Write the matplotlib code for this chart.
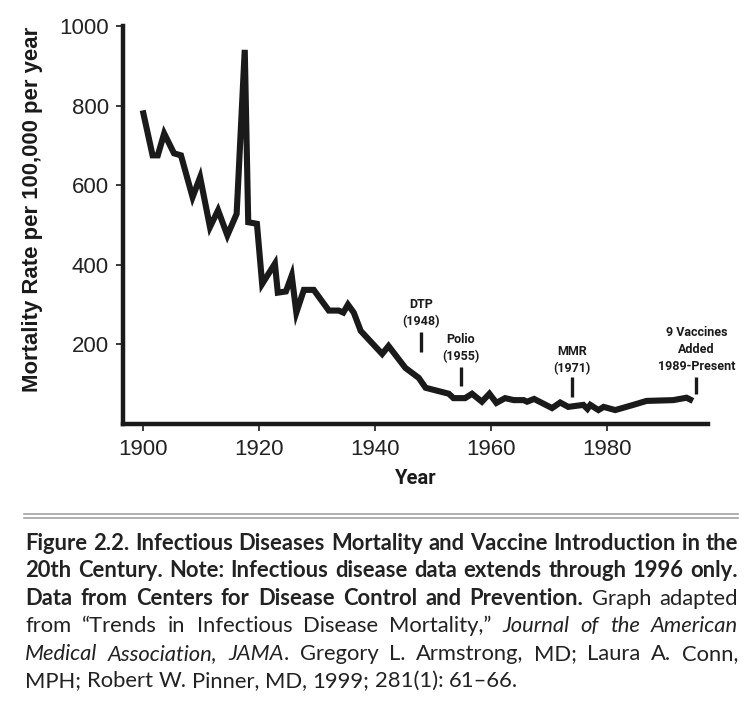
import matplotlib
matplotlib.use("Agg")
import matplotlib.pyplot as plt
from matplotlib.lines import Line2D

# data
years = [1900, 1901.7, 1902.6, 1903.7, 1905.4, 1906.6, 1908.6, 1909.9, 1911.6, 1913.0,
         1914.6, 1916.2, 1917.6, 1918.2, 1919.7, 1920.6, 1922.8, 1923.3, 1924.7, 1925.7,
         1926.5, 1927.8, 1929.5, 1932.1, 1933.8, 1934.6, 1935.4, 1936.4, 1937.6, 1941.3,
         1942.4, 1945.3, 1947.6, 1948.8, 1952.8, 1953.6, 1955.6, 1956.8, 1958.5, 1959.8,
         1961.0, 1962.5, 1964.0, 1965.7, 1966.3, 1967.5, 1970.6, 1972.0, 1973.4, 1976.0,
         1976.7, 1977.2, 1978.6, 1979.5, 1981.5, 1984.6, 1986.9, 1991.5, 1993.8, 1994.9]
rates = [788, 675, 675, 730, 680, 675, 570, 620, 495, 537,
         474, 528, 940, 507, 503, 352, 403, 330, 333, 373,
         280, 337, 337, 285, 285, 280, 300, 280, 234, 176,
         196, 141, 116, 91, 76, 65, 65, 76, 56, 76,
         53, 65, 60, 60, 56, 63, 40, 54, 43, 48,
         38, 48, 35, 43, 35, 48, 58, 60, 66, 58]

vaccine_labels = ["DTP\n(1948)", "Polio\n(1955)", "MMR\n(1971)", "9 Vaccines\nAdded\n1989-Present"]
vaccine_x = [1948.0, 1954.9, 1974.0, 1995.5]
mark_low = [182, 96, 68, 75]
mark_high = [230, 143, 117, 119]
label_bottom = [240, 152, 122, 128]

x_ticks = [1900, 1920, 1940, 1960, 1980]
y_ticks = [200, 400, 600, 800, 1000]

caption_lines = [
    [("Figure 2.2. Infectious Diseases Mortality and Vaccine Introduction in the", "bold")],
    [("20th Century. Note: Infectious disease data extends through 1996 only.", "bold")],
    [("Data from Centers for Disease Control and Prevention.", "bold"), (" Graph adapted", "normal")],
    [("from \u201cTrends in Infectious Disease Mortality,\u201d", "normal"), (" Journal of the American", "italic")],
    [("Medical Association, JAMA", "italic"), (". Gregory L. Armstrong, MD; Laura A. Conn,", "normal")],
    [("MPH; Robert W. Pinner, MD, 1999; 281(1): 61\u201366.", "normal")],
]

INK = "#1a1a1a"
BOLDFONT = ["Roboto", "DejaVu Sans"]
W, H = 750, 704
fig = plt.figure(figsize=(W / 100, H / 100), dpi=100)
ax = fig.add_axes([123 / W, 1 - 424 / H, (708 - 123) / W, (424 - 26) / H])

ax.plot(years, rates, color=INK, lw=4.4, solid_joinstyle="miter", solid_capstyle="butt")

for lab, x, lo, hi, tb in zip(vaccine_labels, vaccine_x, mark_low, mark_high, label_bottom):
    ax.plot([x, x], [lo, hi], color=INK, lw=2.4, solid_capstyle="butt")
    ax.text(x, tb, lab, ha="center", va="bottom", fontsize=9, fontweight="bold",
            family=BOLDFONT, color=INK, linespacing=1.4)

ax.set_xlim(1896.6, 1997.5)
ax.set_ylim(0, 1000)
ax.set_xticks(x_ticks)
ax.set_yticks(y_ticks)
for s in ["top", "right"]:
    ax.spines[s].set_visible(False)
for s in ["left", "bottom"]:
    ax.spines[s].set_linewidth(3.2)
    ax.spines[s].set_color(INK)
ax.tick_params(axis="both", length=5, width=1.2, color=INK, labelsize=16, labelcolor="#222222")
ax.tick_params(axis="y", pad=5)
ax.tick_params(axis="x", pad=6)
for t in ax.get_xticklabels() + ax.get_yticklabels():
    t.set_family(["Liberation Sans", "DejaVu Sans"])

fig.text(33 / W, 1 - 209 / H, "Mortality Rate per 100,000 per year", rotation=90,
         ha="center", va="center", fontsize=15.9, fontweight="bold", color=INK,
         family=["Liberation Sans", "DejaVu Sans"])
fig.text(416 / W, 1 - 479 / H, "Year", ha="center", va="center", fontsize=14.5,
         fontweight="bold", color=INK, family=BOLDFONT)

# double rule above the caption
for yy in [513.7, 517.7]:
    fig.add_artist(Line2D([24 / W, 738 / W], [1 - yy / H] * 2, color="#9a9a9a", lw=1.1))

# justified caption, word by word
cap_left, cap_right = 25, 738
baselines = [550, 577.4, 604.8, 632.2, 659.6, 687]
CAPFONT = ["Lato", "DejaVu Sans"]
styles = {"bold": dict(fontweight="bold"), "normal": dict(), "italic": dict(fontstyle="italic")}
renderer = fig.canvas.get_renderer()


def text_width(s, size, st):
    t = fig.text(0, 0, s, fontsize=size, family=CAPFONT, **styles[st])
    wd = t.get_window_extent(renderer).width
    t.remove()
    return wd


# size the caption font so the first line fills the width with ordinary spaces
base = 13
natural = text_width(caption_lines[0][0][0], base, "bold")
cap_size = base * (cap_right - cap_left - 6) / natural

for li, (segs, yy) in enumerate(zip(caption_lines, baselines)):
    words = []  # each word is a list of (text, style)
    for seg, st in segs:
        toks = seg.split(" ")
        for k, tok in enumerate(toks):
            if tok == "":
                continue
            if k == 0 and words:
                words[-1].append((tok, st))
            else:
                words.append([(tok, st)])
    arts = []
    total = 0
    for w in words:
        parts = []
        for tok, st in w:
            t = fig.text(0, 1 - yy / H, tok, fontsize=cap_size, color="#222222",
                         va="baseline", ha="left", family=CAPFONT, **styles[st])
            wd = t.get_window_extent(renderer).width
            parts.append((t, wd))
            total += wd
        arts.append(parts)
    if li < len(caption_lines) - 1:
        gap = (cap_right - cap_left - total) / (len(words) - 1)
    else:
        gap = text_width("a a", cap_size, "normal") - text_width("aa", cap_size, "normal")
    x = cap_left
    for parts in arts:
        for t, wd in parts:
            t.set_x(x / W)
            x += wd
        x += gap

fig.savefig("out.png", dpi=100)
